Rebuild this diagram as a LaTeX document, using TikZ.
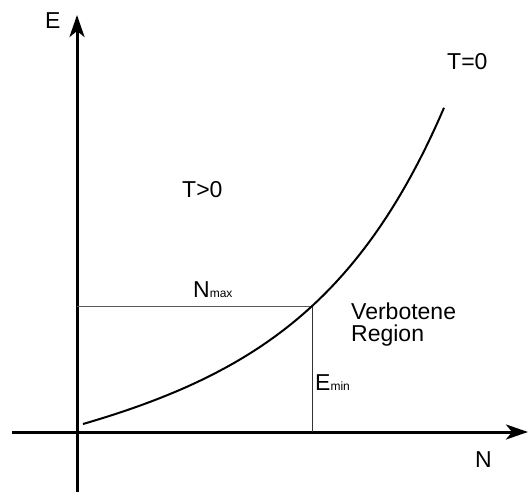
\documentclass[tikz,border=0pt]{standalone}
\usepackage{fontspec}
\setmainfont{Liberation Sans}
\usetikzlibrary{arrows.meta}
\begin{document}
\begin{tikzpicture}[x=1pt,y=-1pt,
  axis/.style={line width=3pt,-{Stealth[length=22pt,width=15pt,inset=6pt]}},
  curveline/.style={line width=2pt},
  guide/.style={line width=1pt,black!65},
  lbl/.style={anchor=base west,inner sep=0pt,font=\fontsize{23}{26}\selectfont}]
\useasboundingbox (0,0) rectangle (528,492);
% axes
\coordinate (ybot) at (77,492);
\coordinate (ytop) at (77,15);
\coordinate (xleft) at (12,432);
\coordinate (xright) at (528,432);
\draw[axis] (ybot) -- (ytop);
\draw[axis] (xleft) -- (xright);
% guides
\coordinate (hstart) at (77,306);
\coordinate (cross) at (312,306);
\coordinate (vbot) at (312,432);
\draw[guide] (hstart) -- (cross);
\draw[line width=0.9pt,black!80] (cross) -- (vbot);
% curve
\draw[curveline] plot[domain=0:361,samples=90,smooth]
  ({83+\x},{432-(8+0.1707*\x+15.04*(exp(0.008*\x)-1))});
% labels
\node[lbl] (E) at (45,29) {E};
\node[lbl] (N) at (475,467) {N};
\node[lbl] (T0) at (447,70) {T=0};
\node[lbl] (Tg) at (182,198) {T>0};
\node[lbl] (Nmax) at (193,298) {N{\fontsize{12}{14}\selectfont max}};
\node[lbl,align=left,font=\fontsize{23}{22}\selectfont] (verb) at (351,341) {Verbotene\\Region};
\node[lbl] (Emin) at (315,390) {E{\fontsize{12}{14}\selectfont min}};
\end{tikzpicture}
\end{document}
